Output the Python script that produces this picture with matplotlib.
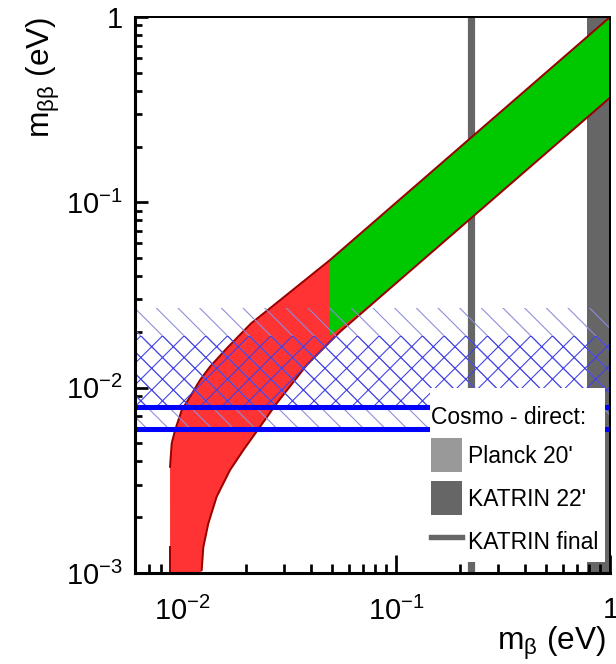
import numpy as np
import matplotlib
matplotlib.use("Agg")
import matplotlib.pyplot as plt
from matplotlib.patches import Patch, Rectangle
from matplotlib.lines import Line2D
from matplotlib.ticker import LogLocator, NullFormatter, FuncFormatter

plt.rcParams["font.family"] = "Liberation Sans"
plt.rcParams["mathtext.fontset"] = "custom"
plt.rcParams["mathtext.rm"] = "Liberation Sans"
plt.rcParams["mathtext.it"] = "Liberation Sans:italic"
plt.rcParams["mathtext.bf"] = "Liberation Sans:bold"
plt.rcParams["hatch.linewidth"] = 0.6

# normal ordering band (red): upper and lower edges
no_up_mbeta = [0.0088, 0.00879, 0.00895, 0.00928, 0.00997, 0.0109, 0.01214, 0.01351,
               0.01618, 0.0210, 0.0272, 0.0491, 1.0]
no_up_mbb = [0.0005, 0.00374, 0.00501, 0.0059, 0.00757, 0.00893, 0.0110, 0.01297,
             0.0163, 0.0222, 0.0282, 0.0488, 1.0]
no_lo_mbeta = [0.01236, 0.01236, 0.01258, 0.01327, 0.01452, 0.01676, 0.01934,
               0.02315, 0.0277, 0.03825, 0.0547, 1.0]
no_lo_mbb = [0.0005, 0.00104, 0.00138, 0.00185, 0.00258, 0.00359, 0.0046,
             0.00615, 0.00823, 0.01324, 0.0200, 0.367]

# inverted ordering band (green)
io_up_mbeta = [0.0491, 1.0]
io_up_mbb = [0.0488, 1.0]
io_lo_mbeta = [0.0491, 0.06, 0.08, 1.0]
io_lo_mbb = [0.0191, 0.0228, 0.0294, 0.367]

# cosmology / direct constraints
hatch_wide = [0.0060, 0.027]
hatch_narrow = [0.0081, 0.0191]
blue_levels = [0.0079, 0.0060]
katrin_final = 0.225
katrin_22 = [0.78, 1.0]

legend_title = "Cosmo - direct:"
legend_labels = ["Planck 20'", "KATRIN 22'", "KATRIN final"]

DPI = 130
fig = plt.figure(figsize=(616 / DPI, 664 / DPI), dpi=DPI)
ax = fig.add_axes([135 / 616, 1 - 573 / 664, 475 / 616, 556 / 664])
ax.set_xscale("log")
ax.set_yscale("log")
ax.set_xlim(0.00603, 1.0)
ax.set_ylim(1e-3, 1.0)

# direct limits
ax.axvline(katrin_final, color="#666666", lw=4.0, zorder=1)
ax.axvspan(katrin_22[0], katrin_22[1], color="#666666", lw=0, zorder=1)

# bands
ax.fill(no_up_mbeta + no_lo_mbeta[::-1], no_up_mbb + no_lo_mbb[::-1],
        color="#ff3333", lw=0, zorder=2)
ax.fill(io_up_mbeta + io_lo_mbeta[::-1], io_up_mbb + io_lo_mbb[::-1],
        color="#00c800", lw=0, zorder=3)
ax.plot(no_up_mbeta[1:], no_up_mbb[1:], color="#990000", lw=1.1, zorder=4)
ax.plot(no_lo_mbeta[1:], no_lo_mbb[1:], color="#990000", lw=1.1, zorder=4)
ax.plot([no_up_mbeta[0]] * 2, [1e-3, 0.00138], color="#990000", lw=1.1, zorder=4)

# cosmology hatches
ax.axhspan(hatch_wide[0], hatch_wide[1], facecolor="none", edgecolor="#8c8cdc",
           hatch="\\\\", lw=0, zorder=5)
ax.axhspan(hatch_narrow[0], hatch_narrow[1], facecolor="none", edgecolor="#4040e6",
           hatch="xx", lw=0, zorder=5)
for v in blue_levels:
    ax.axhline(v, color="#0000ff", lw=2.8, zorder=6)

# legend: white box drawn separately, legend itself without frame
ax.add_patch(Rectangle((0.621, 0.0198), 0.3685, 0.3129, transform=ax.transAxes,
                       facecolor="white", edgecolor="none", zorder=9))
handles = [Patch(facecolor="#999999", edgecolor="none"),
           Patch(facecolor="#666666", edgecolor="none"),
           Line2D([], [], color="#666666", lw=3.0)]
leg = ax.legend(handles, legend_labels, title=legend_title, loc="upper left",
                bbox_to_anchor=(0.6232, 0.3002), borderaxespad=0, frameon=False,
                fontsize=12.7, title_fontsize=12.7, handlelength=1.35,
                handleheight=1.9, handletextpad=0.25, labelspacing=0.4,
                borderpad=0, alignment="left")
leg.set_zorder(10)


def log_label(v, pos):
    if abs(v - 1) < 1e-9:
        return r"$\mathdefault{1}$"
    return r"$\mathdefault{10^{%d}}$" % round(np.log10(v))


for axis in (ax.xaxis, ax.yaxis):
    axis.set_major_locator(LogLocator(base=10, numticks=10))
    axis.set_minor_locator(LogLocator(base=10, subs=np.arange(2, 10), numticks=20))
    axis.set_major_formatter(FuncFormatter(log_label))
    axis.set_minor_formatter(NullFormatter())

ax.tick_params(which="both", direction="in", top=False, right=False, width=1.5,
               labelsize=16)
ax.tick_params(axis="x", which="major", length=10, pad=13)
ax.tick_params(axis="x", which="minor", length=5)
ax.tick_params(axis="y", which="major", length=7.2, pad=7)
ax.tick_params(axis="y", which="minor", length=3.9)
for s in ("left", "bottom"):
    ax.spines[s].set_linewidth(1.7)
for s in ("top", "right"):
    ax.spines[s].set_linewidth(1.1)
for s in ax.spines.values():
    s.set_zorder(11)

ax.set_xlabel(r"m$_{\mathregular{β}}$ (eV)", fontsize=17.5, loc="right")
ax.xaxis.set_label_coords(0.9916, -0.0935)
ax.set_ylabel(r"m$_{\mathregular{ββ}}$ (eV)", fontsize=17.5, loc="top")
ax.yaxis.set_label_coords(-0.1537, 1.0)

fig.savefig("out.png", dpi=DPI)
